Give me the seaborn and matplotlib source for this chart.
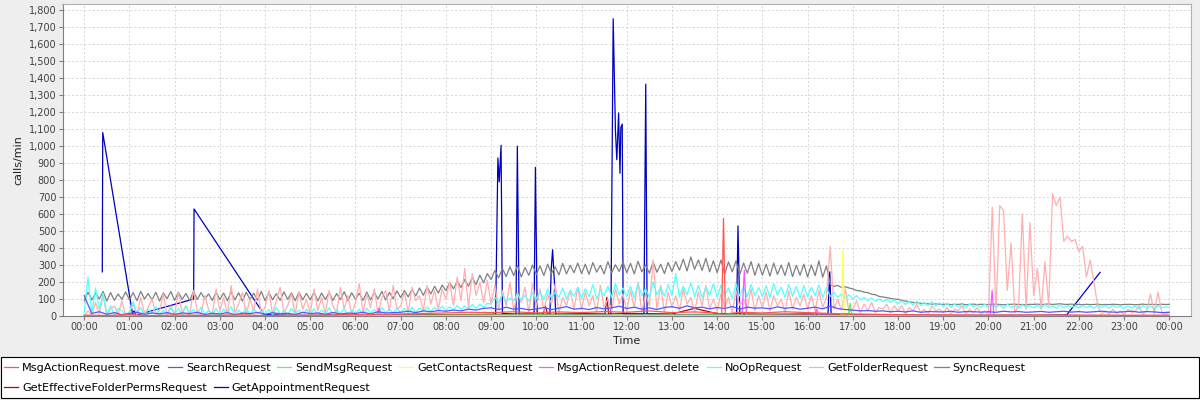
import numpy as np
import pandas as pd
import seaborn as sns
import matplotlib.pyplot as plt
from matplotlib.ticker import FuncFormatter, MultipleLocator
from matplotlib.patches import Rectangle

# ---- data (calls/min), 5 minute samples, one row per hour ----
sync_calls = [
    90, 140, 95, 135, 100, 145, 88, 138, 92, 130, 98, 142,
    95, 138, 90, 145, 100, 132, 94, 140, 88, 136, 102, 144,
    92, 140, 98, 133, 90, 146, 96, 138, 100, 130, 92, 141,
    97, 135, 90, 143, 95, 137, 88, 140, 99, 134, 93, 145,
    90, 138, 96, 131, 92, 142, 98, 136, 90, 140, 95, 133,
    94, 141, 89, 135, 97, 139, 92, 132, 96, 143, 90, 137,
    98, 134, 92, 141, 95, 137, 100, 145, 94, 139, 102, 148,
    108, 150, 112, 158, 118, 165, 122, 170, 130, 175, 135, 182,
    150, 195, 160, 205, 168, 215, 175, 228, 185, 240, 195, 250,
    215, 268, 225, 280, 232, 290, 238, 298, 230, 285, 240, 300,
    245, 295, 238, 305, 250, 290, 242, 310, 248, 298, 255, 312,
    250, 305, 245, 315, 258, 298, 248, 320, 255, 302, 262, 318,
    255, 310, 248, 322, 260, 300, 252, 318, 258, 305, 250, 315,
    262, 320, 270, 335, 265, 348, 275, 330, 268, 340, 260, 325,
    255, 330, 248, 318, 260, 325, 245, 312, 252, 320, 240, 308,
    240, 305, 235, 312, 245, 300, 238, 315, 232, 298, 240, 305,
    230, 300, 238, 325, 228, 295, 185, 175, 180, 168, 172, 165,
    160, 150, 148, 140, 138, 128, 125, 115, 112, 108, 104, 100,
    98, 92, 88, 84, 80, 78, 75, 74, 72, 70, 71, 69,
    68, 70, 67, 69, 68, 71, 66, 68, 70, 67, 69, 68,
    67, 69, 70, 68, 66, 68, 69, 70, 67, 68, 66, 69,
    68, 70, 67, 69, 71, 68, 70, 72, 69, 68, 70, 67,
    68, 66, 69, 67, 68, 70, 66, 68, 67, 69, 68, 66,
    67, 69, 68, 66, 68, 70, 67, 69, 68, 67, 69, 68,
    68,
]

noop_calls = [
    20, 230, 15, 165, 40, 134, 10, 60, 5, 45, 30, 8,
    25, 85, 10, 50, 5, 40, 15, 55, 8, 35, 12, 48,
    10, 45, 5, 60, 15, 38, 8, 52, 12, 30, 6, 44,
    8, 40, 12, 55, 5, 35, 10, 48, 6, 42, 15, 30,
    12, 38, 6, 50, 10, 32, 8, 45, 14, 36, 5, 40,
    10, 42, 8, 35, 12, 48, 6, 38, 15, 44, 9, 36,
    14, 40, 10, 46, 16, 38, 12, 50, 18, 42, 15, 48,
    20, 45, 18, 52, 22, 48, 25, 55, 28, 50, 30, 58,
    32, 55, 35, 62, 38, 58, 42, 68, 45, 70, 50, 75,
    70, 110, 80, 125, 85, 105, 90, 130, 95, 120, 88, 135,
    100, 145, 95, 160, 105, 140, 110, 165, 98, 150, 115, 170,
    105, 160, 115, 185, 100, 150, 120, 175, 110, 190, 125, 165,
    115, 175, 105, 190, 120, 160, 110, 200, 125, 170, 118, 185,
    120, 250, 110, 175, 125, 195, 115, 180, 108, 170, 122, 190,
    110, 180, 125, 165, 105, 190, 118, 172, 112, 185, 120, 168,
    115, 178, 108, 190, 122, 170, 110, 185, 118, 175, 105, 180,
    112, 170, 120, 182, 108, 165, 115, 140, 110, 130, 105, 125,
    100, 120, 95, 110, 92, 105, 88, 100, 85, 98, 80, 95,
    72, 90, 68, 85, 65, 88, 62, 80, 60, 84, 58, 78,
    55, 75, 50, 70, 52, 68, 48, 72, 55, 66, 50, 70,
    48, 68, 52, 64, 45, 70, 50, 62, 46, 66, 52, 60,
    48, 64, 45, 68, 50, 60, 44, 66, 48, 62, 52, 58,
    46, 62, 50, 58, 44, 65, 48, 60, 45, 63, 50, 57,
    44, 60, 48, 56, 42, 62, 46, 58, 44, 60, 48, 55,
    50,
]

folder_calls = [
    0, 30, 5, 80, 10, 120, 5, 40, 60, 10, 90, 5,
    20, 70, 5, 110, 15, 50, 100, 10, 30, 130, 5, 60,
    10, 140, 20, 60, 5, 150, 30, 10, 120, 40, 5, 160,
    30, 110, 10, 180, 20, 70, 140, 5, 100, 30, 160, 10,
    50, 150, 10, 90, 170, 20, 60, 130, 10, 140, 40, 100,
    15, 160, 30, 110, 10, 150, 60, 20, 170, 40, 120, 10,
    80, 190, 20, 130, 50, 160, 10, 110, 150, 30, 180, 40,
    60, 140, 20, 170, 90, 120, 30, 180, 70, 150, 40, 160,
    100, 200, 60, 230, 90, 280, 50, 250, 120, 200, 80, 210,
    70, 180, 40, 150, 60, 200, 30, 140, 80, 170, 20, 190,
    50, 160, 30, 130, 70, 190, 20, 110, 60, 150, 40, 170,
    40, 140, 60, 120, 20, 180, 50, 100, 30, 160, 70, 130,
    30, 150, 50, 200, 20, 130, 60, 330, 40, 180, 20, 140,
    50, 120, 30, 160, 70, 110, 20, 140, 60, 180, 40, 100,
    30, 130, 50, 110, 20, 150, 60, 100, 40, 160, 30, 120,
    50, 140, 30, 120, 60, 100, 20, 150, 40, 110, 60, 130,
    40, 120, 30, 150, 50, 110, 410, 40, 100, 30, 160, 20,
    40, 90, 20, 70, 30, 80, 20, 50, 40, 70, 20, 60,
    30, 60, 10, 50, 30, 70, 20, 40, 10, 60, 30, 40,
    20, 50, 10, 40, 30, 60, 10, 40, 20, 50, 10, 30,
    10, 640, 30, 650, 620, 150, 430, 20, 60, 600, 40, 550,
    120, 280, 40, 320, 60, 720, 650, 700, 440, 470, 440, 450,
    380, 410, 230, 330, 200, 60, 10, 30, 10, 40, 15, 30,
    10, 40, 20, 30, 60, 10, 30, 130, 15, 140, 20, 10,
    20,
]

# 10 minute samples, one row per hour
search_calls = [
    120, 15, 25, 10, 20, 8,
    15, 22, 10, 18, 12, 20,
    10, 18, 14, 22, 9, 16,
    12, 20, 8, 17, 14, 21,
    10, 19, 13, 16, 9, 22,
    14, 18, 10, 21, 12, 17,
    15, 22, 12, 25, 18, 20,
    22, 28, 20, 30, 25, 32,
    28, 35, 30, 40, 35, 45,
    48, 38, 52, 40, 45, 36,
    42, 50, 38, 46, 55, 40,
    45, 38, 50, 42, 48, 58,
    44, 52, 40, 48, 38, 50,
    55, 45, 60, 48, 52, 42,
    50, 44, 56, 40, 52, 46,
    48, 42, 54, 45, 50, 40,
    46, 52, 42, 58, 44, 38,
    35, 30, 32, 28, 30, 25,
    28, 24, 30, 22, 26, 25,
    24, 28, 22, 26, 25, 23,
    25, 22, 28, 24, 26, 22,
    24, 27, 22, 25, 28, 23,
    26, 22, 25, 28, 24, 22,
    25, 28, 22, 26, 24, 20,
    22,
]

# sparse series: (hour, calls/min)
move_hours = [0, 0.5, 1, 1.5, 2, 2.5, 3, 3.5, 4, 4.5, 5, 5.5, 6, 6.5, 7, 7.5, 8, 8.5,
              9, 9.5, 10, 10.5, 11, 11.5, 12, 12.5, 13, 13.5, 14, 14.10, 14.14, 14.18,
              14.5, 15, 15.5, 16, 16.5, 17, 17.5, 18, 19, 20, 21, 22, 23, 24]
move_calls = [5, 3, 8, 2, 6, 4, 3, 7, 2, 5, 4, 6, 8, 10, 12, 15, 18, 22,
              20, 25, 18, 24, 20, 26, 22, 30, 20, 24, 18, 10, 575, 12,
              22, 18, 25, 20, 15, 12, 10, 8, 6, 5, 6, 5, 4, 5]

sendmsg_hours = [0, 2, 4, 6, 8, 10, 12, 14, 16, 16.90, 16.94, 16.98, 18, 20, 22, 24]
sendmsg_calls = [1, 2, 1, 3, 5, 6, 5, 6, 4, 4, 75, 4, 2, 2, 1, 1]

contacts_hours = [0, 4, 8, 12, 16, 16.75, 16.78, 16.81, 18, 20, 24]
contacts_calls = [0, 1, 2, 3, 2, 2, 385, 2, 1, 0, 0]

delete_hours = [0, 3, 6, 6.48, 6.52, 6.56, 9, 12, 14.55, 14.6, 14.65, 16.15, 16.2,
                16.25, 18, 20.04, 20.08, 20.12, 22, 24]
delete_calls = [0, 2, 3, 3, 47, 3, 4, 5, 5, 270, 5, 5, 40, 5, 2, 2, 150, 2, 1, 1]

perms_hours = [0, 1, 2, 3, 4, 5, 6, 7, 8, 9, 10, 10.15, 10.2, 10.25, 11, 11.52, 11.56,
               11.6, 12, 13, 13.5, 14, 15, 16, 17, 18, 19, 20, 21, 22, 23, 24]
perms_calls = [2, 3, 2, 4, 2, 3, 4, 6, 8, 10, 12, 10, 60, 10, 14, 12, 110,
               12, 15, 12, 45, 14, 10, 12, 8, 5, 4, 3, 4, 3, 3, 2]

appt_hours = [0.40, 0.41, 1.07, 1.10, 1.15, 2.42, 2.43, 3.98, 4.5, 5.0, 5.5, 6.0, 6.5,
              7.0, 7.5, 8.0, 8.5, 9.10, 9.15, 9.18, 9.22, 9.25, 9.55, 9.58, 9.62,
              9.95, 9.98, 10.02, 10.30, 10.33, 10.36, 10.40, 10.43, 11.0, 11.65,
              11.70, 11.75, 11.78, 11.82, 11.85, 11.87, 11.90, 11.92, 12.38, 12.42,
              12.45, 13.0, 14.0, 14.43, 14.46, 14.50, 15.5, 16.45, 16.49, 16.52,
              17.5, 18.5, 19.5, 20.5, 21.0, 21.73, 22.47]
appt_calls = [260, 1080, 10, 30, 5, 100, 630, 8, 5, 3, 6, 4, 5,
              6, 5, 8, 6, 10, 930, 790, 1005, 15, 10, 1000, 10,
              10, 875, 10, 10, 280, 390, 200, 10, 8, 10,
              1750, 1090, 920, 1195, 840, 1110, 1130, 10, 10, 1365,
              10, 8, 10, 10, 530, 10, 8, 10, 260, 10,
              5, 4, 3, 4, 3, 6, 257]

hours_5min = np.arange(len(sync_calls)) / 12
hours_10min = np.arange(len(search_calls)) / 6

series = [
    ("MsgActionRequest.move", move_hours, move_calls, "#FF5555"),
    ("SearchRequest", hours_10min, search_calls, "#5555FF"),
    ("SendMsgRequest", sendmsg_hours, sendmsg_calls, "#55FF55"),
    ("GetContactsRequest", contacts_hours, contacts_calls, "#FFFF55"),
    ("MsgActionRequest.delete", delete_hours, delete_calls, "#FF55FF"),
    ("NoOpRequest", hours_5min, noop_calls, "#55FFFF"),
    ("GetFolderRequest", hours_5min, folder_calls, "#FFAFAF"),
    ("SyncRequest", hours_5min, sync_calls, "#808080"),
    ("GetEffectiveFolderPermsRequest", perms_hours, perms_calls, "#C00000"),
    ("GetAppointmentRequest", appt_hours, appt_calls, "#0000C0"),
]

plt.rcParams['font.family'] = ['DejaVu Sans']

fig = plt.figure(figsize=(12, 4), dpi=100, facecolor='#EEEEEE')
ax = fig.add_axes([62.5 / 1200, 1 - 316 / 400, 1128.5 / 1200, 312 / 400])
ax.set_facecolor('white')

for i, (name, xs, ys, col) in enumerate(series):
    df = pd.DataFrame({'hour': xs, 'calls': ys})
    sns.lineplot(data=df, x='hour', y='calls', color=col, lw=0.9, ax=ax,
                 label=name, zorder=20 - i)

ax.set_xlim(-0.48, 24.48)
ax.set_ylim(0, 1837)
ax.xaxis.set_major_locator(MultipleLocator(1))
ax.xaxis.set_major_formatter(FuncFormatter(lambda v, p: '%02d:00' % (int(round(v)) % 24)))
ax.yaxis.set_major_locator(MultipleLocator(100))
ax.yaxis.set_major_formatter(FuncFormatter(lambda v, p: '{:,.0f}'.format(v)))
ax.grid(True, color='#D0D0D0', lw=0.6, ls=(0, (2.5, 2.5)))
ax.set_axisbelow(True)
ax.tick_params(labelsize=7, colors='#808080', labelcolor='#404040', length=3, width=0.8, pad=1.5)
for s in ax.spines.values():
    s.set_color('#B0B0B0')
    s.set_linewidth(0.8)
ax.spines['left'].set_color('#808080')
ax.spines['bottom'].set_color('#808080')
ax.set_xlabel('Time', fontsize=8, color='#202020', labelpad=3)
ax.set_ylabel('calls/min', fontsize=8, color='#202020', labelpad=4)

handles, labels = ax.get_legend_handles_labels()
if ax.get_legend() is not None:
    ax.get_legend().remove()

leg_kw = dict(frameon=False, fontsize=8.1, handlelength=1.25, handletextpad=0.35,
              columnspacing=0.6, borderaxespad=0, borderpad=0, loc='center left')
fig.legend(handles[:8], labels[:8], ncol=8, bbox_to_anchor=(0.0035, 0.079), **leg_kw)
fig.legend(handles[8:], labels[8:], ncol=2, bbox_to_anchor=(0.0035, 0.031), **leg_kw)
fig.patches.append(Rectangle((1 / 1200, 2 / 400), 1198 / 1200, 41 / 400,
                             transform=fig.transFigure, fc='white', ec='black',
                             lw=0.8, zorder=0))

fig.savefig('out.png', dpi=100, facecolor=fig.get_facecolor())
